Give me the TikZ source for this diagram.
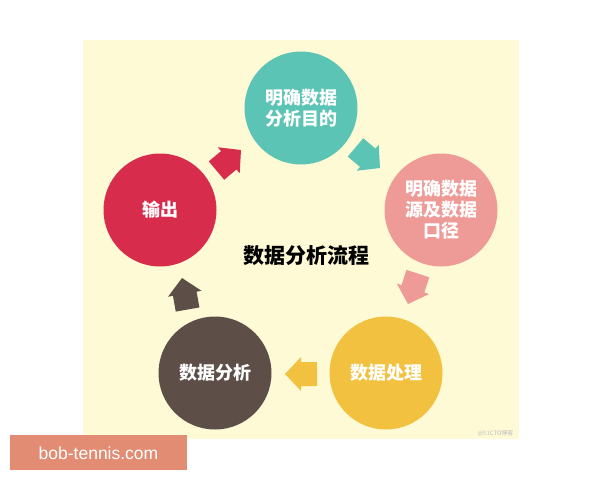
\documentclass[tikz,border=0pt]{standalone}
\usepackage{fontspec}
\setmainfont{Liberation Sans}
\newfontfamily\cjk{Noto Sans CJK SC}
\definecolor{bgy}{HTML}{FEFAD6}
\definecolor{cteal}{HTML}{5BC4B4}
\definecolor{cpink}{HTML}{EE9A96}
\definecolor{cred}{HTML}{D82C4C}
\definecolor{cbrown}{HTML}{5E4E48}
\definecolor{cyellow}{HTML}{F2C13F}
\definecolor{csalmon}{HTML}{E28C73}
\tikzset{
  blockarrow/.pic={\fill[pic actions] (0,0) -- (-16,-17) -- (-16,-12) -- (-32,-12) -- (-32,12) -- (-16,12) -- (-16,17) -- cycle;}
}
\begin{document}
\begin{tikzpicture}[x=1pt,y=-1pt,
  circ/.style={circle,minimum size=113pt,inner sep=0pt,text=white,
    font=\cjk\bfseries\fontsize{18}{21}\selectfont,align=center}]
\useasboundingbox (0,0) rectangle (600,480);
\fill[white] (0,0) rectangle (600,480);
\fill[bgy] (83,40) rectangle (519,439);
% circles
\node[circ,fill=cteal]   (goal)   at (301,108) {明确数据\\分析目的};
\node[circ,fill=cpink]   (source) at (441,210) {明确数据\\源及数据\\口径};
\node[circ,fill=cyellow] (proc)   at (386,373) {数据处理};
\node[circ,fill=cbrown]  (anal)   at (215,373) {数据分析};
\node[circ,fill=cred]    (out)    at (160,210) {输出};
% title
\node[font=\cjk\bfseries\fontsize{21}{24}\selectfont,text=black] (title) at (306,256) {数据分析流程};
% block arrows
\pic[fill=cred,rotate=40]     at (241,150) {blockarrow};
\pic[fill=cteal,rotate=-40]   at (380,168) {blockarrow};
\pic[fill=cpink,rotate=-108]  at (408,304) {blockarrow};
\pic[fill=cyellow,rotate=180] at (285,374) {blockarrow};
\pic[fill=cbrown,rotate=100]  at (182,278) {blockarrow};
% watermarks
\node[font=\cjk\fontsize{6}{7}\selectfont,text=black!25,anchor=east] (wm) at (517,433) {@51CTO博客};
\fill[csalmon] (10,435) rectangle (187,470);
\node[font=\fontsize{17.5}{20}\selectfont,text=white] (site) at (98.5,453) {bob-tennis.com};
\end{tikzpicture}
\end{document}
